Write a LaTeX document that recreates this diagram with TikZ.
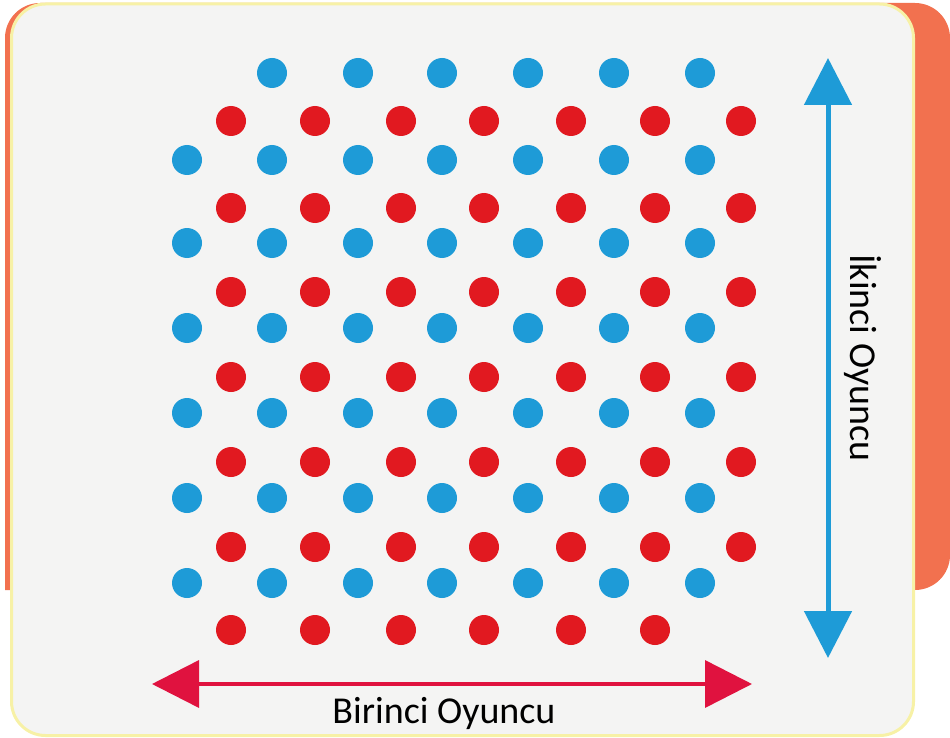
\documentclass[tikz,border=0pt]{standalone}
\usepackage{fontspec}
\setmainfont{Carlito}
\usetikzlibrary{arrows.meta}
\definecolor{pageorange}{HTML}{F2714F}
\definecolor{panelgrey}{HTML}{F4F4F3}
\definecolor{panelrim}{HTML}{F7F1A6}
\definecolor{dotblue}{HTML}{1E9BD7}
\definecolor{dotred}{HTML}{E11920}
\definecolor{arrred}{HTML}{E0123F}
\tikzset{
  oy dot/.style={radius=15pt},
  oy arr/.style={{Triangle[length=47pt,width=47pt]}-{Triangle[length=47pt,width=47pt]}},
  oy blue arr/.style={oy arr, draw=dotblue, fill=dotblue, line width=5pt},
  oy red arr/.style={oy arr, draw=arrred, fill=arrred, line width=3.5pt},
  oy label/.style={font=\fontsize{38}{40}\selectfont, text=black, inner sep=0pt, anchor=base},
}

\begin{document}
\begin{tikzpicture}[x=1pt, y=-1pt]
  \useasboundingbox (0,0) rectangle (950,738);
  % orange card behind the panel
  \fill[pageorange] (5,590) [rounded corners=35pt] -- (5,3) -- (950,3) -- (950,590) [sharp corners] -- cycle;
  \draw[panelrim, line width=3pt, fill=panelgrey, rounded corners=34pt] (11.5,4) rectangle (913.5,735.5);
  % blue rows
  \foreach \x in {272,358,442,528,614,700} \fill[dotblue, oy dot] (\x,73) circle;
  \foreach \y in {160,243,328,413,498,583}
    \foreach \x in {187,272,358,442,528,614,700} \fill[dotblue, oy dot] (\x,\y) circle;
  % red rows
  \foreach \y in {121,208,292,377,462,547}
    \foreach \x in {231,315,401,484,571,655,741} \fill[dotred, oy dot] (\x,\y) circle;
  \foreach \x in {231,315,401,484,571,655} \fill[dotred, oy dot] (\x,630) circle;
  % players
  \coordinate (ikitop) at (828,58);
  \coordinate (ikibot) at (828,658);
  \coordinate (birleft) at (152,684);
  \coordinate (birright) at (752,684);
  \draw[oy blue arr] (ikitop) -- (ikibot);
  \draw[oy red arr] (birleft) -- (birright);
  \node[oy label] (birinci) at (444,723) {Birinci Oyuncu};
  \node[oy label, rotate=-90] (ikinci) at (850,358) {İkinci Oyuncu};
\end{tikzpicture}
\end{document}
